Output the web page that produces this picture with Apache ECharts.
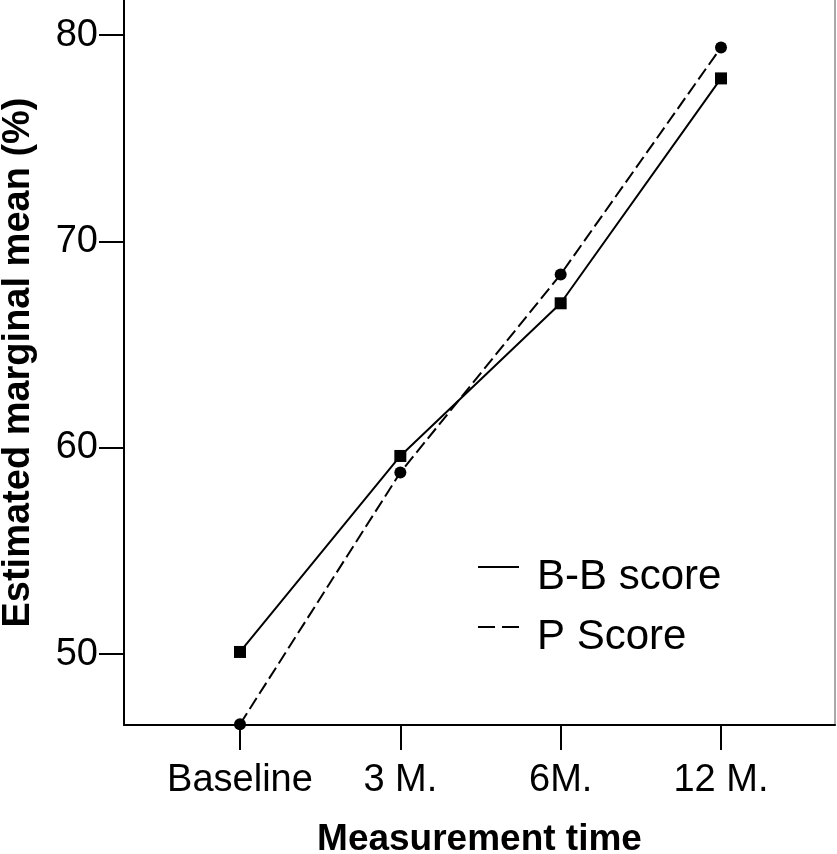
<!DOCTYPE html>
<html>
<head>
<meta charset="utf-8">
<script src="https://cdn.jsdelivr.net/npm/echarts@6/dist/echarts.min.js"></script>
<style>
html,body{margin:0;padding:0;background:#fff;overflow:hidden;}
#chart{width:837px;height:854px;}
</style>
</head>
<body>
<div id="chart"></div>
<script>
var categories = ['Baseline', '3 M.', '6M.', '12 M.'];
var bbScore = [50.1, 59.6, 67.0, 77.9];
var pScore = [46.6, 58.8, 68.4, 79.4];
var yTicks = [50, 60, 70, 80];
var seriesNames = ['B-B score', 'P Score'];

var FONT = '"Liberation Sans", Arial, sans-serif';
var xIdx = categories.map(function (c, i) { return i; });
function pairs(arr) { return arr.map(function (v, i) { return [i, v]; }); }

var chart = echarts.init(document.getElementById('chart'));
chart.setOption({
  animation: false,
  backgroundColor: '#fff',
  grid: { left: 124, right: 2, top: 0, bottom: 129, containLabel: false, outerBoundsMode: 'none' },
  xAxis: {
    type: 'value',
    min: -0.7235,
    max: 3.711,
    name: 'Measurement time',
    nameLocation: 'middle',
    nameGap: 96,
    nameTextStyle: { fontFamily: FONT, fontSize: 37, fontWeight: 'bold', color: '#000' },
    axisLine: { show: true, onZero: false, lineStyle: { color: '#000', width: 2 } },
    axisTick: { show: true, customValues: xIdx, length: 25, lineStyle: { color: '#000', width: 2 } },
    axisLabel: {
      customValues: xIdx,
      margin: 37,
      fontFamily: FONT, fontSize: 38, color: '#000',
      formatter: function (v) { return categories[Math.round(v)]; }
    },
    splitLine: { show: false }
  },
  yAxis: [{
    type: 'value',
    min: 46.56,
    max: 81.70,
    name: 'Estimated marginal mean (%)',
    nameLocation: 'middle',
    nameGap: 86,
    nameTextStyle: { fontFamily: FONT, fontSize: 38, fontWeight: 'bold', color: '#000' },
    axisLine: { show: true, onZero: false, lineStyle: { color: '#000', width: 2 } },
    axisTick: { show: true, customValues: yTicks, length: 25, lineStyle: { color: '#000', width: 2 } },
    axisLabel: {
      customValues: yTicks,
      margin: 26,
      fontFamily: FONT, fontSize: 38, color: '#000'
    },
    splitLine: { show: false }
  }, {
    type: 'value',
    position: 'right',
    min: 46.56,
    max: 81.70,
    axisLine: { show: true, onZero: false, lineStyle: { color: '#8c8c8c', width: 1.5 } },
    axisTick: { show: false },
    axisLabel: { show: false },
    splitLine: { show: false }
  }],
  legend: {
    orient: 'vertical',
    left: 478,
    top: 556,
    padding: 0,
    itemWidth: 41,
    itemHeight: 22,
    itemGap: 18,
    itemStyle: { borderWidth: 0 },
    textStyle: { fontFamily: FONT, fontSize: 42, color: '#000', padding: [0, 0, 0, 13] },
    data: [
      { name: seriesNames[0], icon: 'path://M0 0H41V2H0ZM0 22L0 22' },
      { name: seriesNames[1], icon: 'path://M0 0H17V2H0ZM24 0H41V2H24ZM0 22L0 22' }
    ]
  },
  series: [{
    name: seriesNames[0],
    type: 'line',
    data: pairs(bbScore),
    symbol: 'rect',
    symbolSize: 12,
    itemStyle: { color: '#000' },
    lineStyle: { color: '#000', width: 2, type: 'solid' },
    z: 3
  }, {
    name: seriesNames[1],
    type: 'line',
    data: pairs(pScore),
    symbol: 'circle',
    symbolSize: 12,
    itemStyle: { color: '#000' },
    lineStyle: { color: '#000', width: 2, type: [13, 5] },
    z: 3
  }]
});
</script>
</body>
</html>
